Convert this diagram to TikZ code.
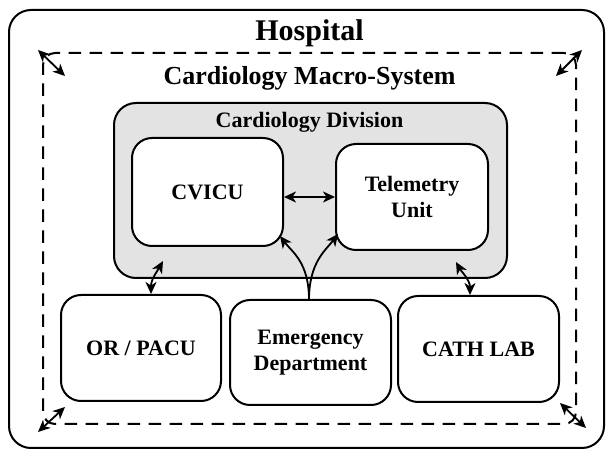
\documentclass[tikz,border=0pt]{standalone}
\usepackage{fontspec}
\setmainfont{Liberation Serif}
\usetikzlibrary{arrows.meta}
\begin{document}
\begin{tikzpicture}[x=1pt,y=-1pt,
  frame/.style={draw, line width=2pt, inner sep=0pt},
  box/.style={draw, line width=2pt, rounded corners=20pt, fill=white, inner sep=0pt,
    align=center, font=\fontsize{22}{26}\selectfont\bfseries},
  tip/.tip={Stealth[length=12pt,width=11pt,inset=3.5pt]},
  arr/.style={line width=1.8pt, tip-tip},
  arr1/.style={line width=1.8pt, -tip},
  title/.style={anchor=base, inner sep=0pt, font=\bfseries}]
\useasboundingbox (0,0) rectangle (606,449);
% frames
\node[frame, rounded corners=22pt, minimum width=595pt, minimum height=438pt] (hosp) at (306.5,229) {};
\node[frame, dashed, dash pattern=on 12.5pt off 8.5pt, rounded corners=12pt,
  minimum width=533pt, minimum height=371pt] (macro) at (309.5,238.5) {};
\node[frame, rounded corners=22pt, fill=gray!22, minimum width=393pt, minimum height=175pt] (div) at (310.5,190.5) {};
% titles
\node[title, font=\fontsize{30}{34}\selectfont\bfseries] (thosp) at (309.5,41) {Hospital};
\node[title, font=\fontsize{26}{30}\selectfont\bfseries] (tmacro) at (309.5,85) {Cardiology Macro-System};
\node[title, font=\fontsize{22}{26}\selectfont\bfseries] (tdiv) at (309.5,128) {Cardiology Division};
% boxes
\node[box, minimum width=151pt, minimum height=108pt] (cvicu) at (207.5,192) {CVICU};
\node[box, minimum width=152pt, minimum height=106pt] (tele) at (412,197) {Telemetry\\Unit};
\node[box, minimum width=160pt, minimum height=106pt] (or) at (141,348) {OR / PACU};
\node[box, minimum width=161pt, minimum height=105pt] (ed) at (310.5,352.5) {Emergency\\Department};
\node[box, minimum width=161pt, minimum height=106pt] (cath) at (478.5,349) {CATH LAB};
% coordinates
\coordinate (gl) at (163,261);
\coordinate (gr) at (456,262);
\coordinate (edtop) at (309,300);
\coordinate (cvc) at (280,236);
\coordinate (tlc) at (338,234);
\coordinate (tl1) at (38,50);  \coordinate (tl2) at (65,76);
\coordinate (tr1) at (556,76); \coordinate (tr2) at (582,50);
\coordinate (bl1) at (38,432); \coordinate (bl2) at (65,407);
\coordinate (br1) at (560,403);\coordinate (br2) at (586,428);
% connectors
\draw[arr] (cvicu.east |- tele.west) -- (tele.west);
\draw[arr] ([xshift=10pt]or.north) .. controls +(0,-15) and +(-5,9) .. (gl);
\draw[arr] ([xshift=-8.5pt]cath.north) .. controls +(0,-15) and +(5,9) .. (gr);
\draw[arr1] (edtop) .. controls +(0,-38) and +(12,16) .. (cvc);
\draw[arr1] (edtop) .. controls +(0,-38) and +(-12,16) .. (tlc);
\draw[arr] (tl1) -- (tl2);
\draw[arr] (tr1) -- (tr2);
\draw[arr] (bl1) -- (bl2);
\draw[arr] (br1) -- (br2);
\end{tikzpicture}
\end{document}
